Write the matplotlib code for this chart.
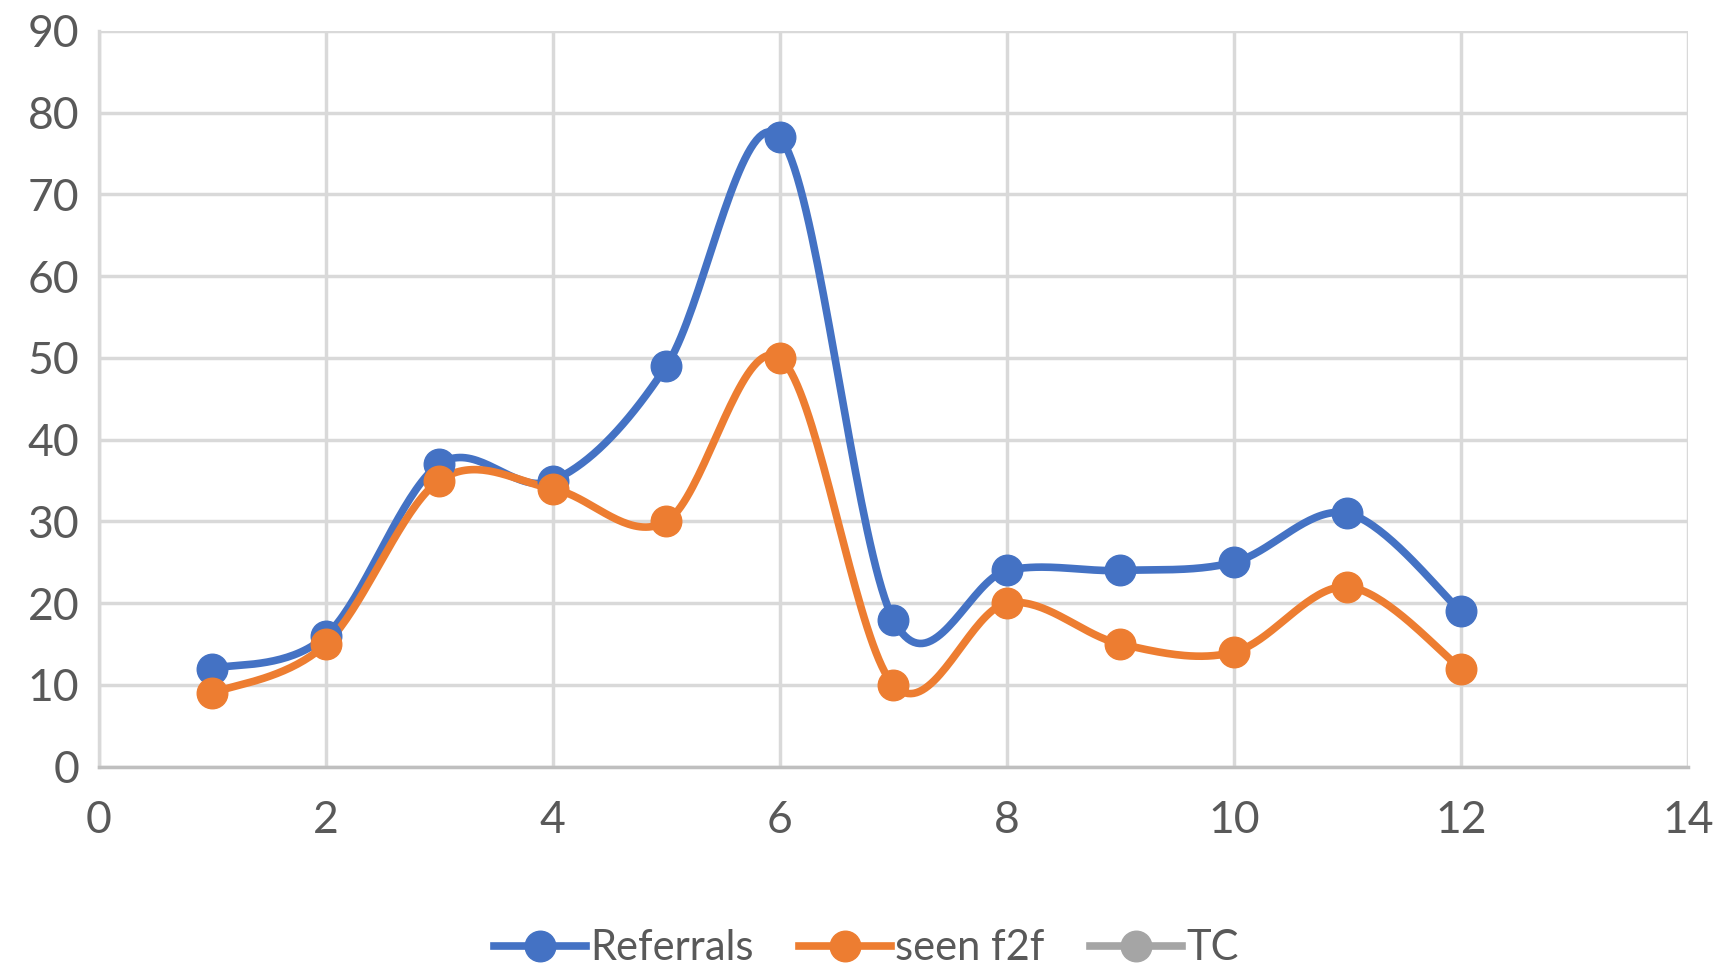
import matplotlib
matplotlib.use("Agg")
import matplotlib.pyplot as plt
import numpy as np

# data
x_vals = [1, 2, 3, 4, 5, 6, 7, 8, 9, 10, 11, 12]
referrals = [12, 16, 37, 35, 49, 77, 18, 24, 24, 25, 31, 19]
seen_f2f = [9, 15, 35, 34, 30, 50, 10, 20, 15, 14, 22, 12]
tc = []  # no values plotted

x_ticks = [0, 2, 4, 6, 8, 10, 12, 14]
y_ticks = [0, 10, 20, 30, 40, 50, 60, 70, 80, 90]


def smooth(xs, ys, n=40):
    # Excel-style smoothed line (Catmull-Rom through the points)
    p = np.column_stack([xs, ys]).astype(float)
    out = [p[0]]
    for i in range(len(p) - 1):
        p0 = p[i - 1] if i > 0 else p[i]
        p1, p2 = p[i], p[i + 1]
        p3 = p[i + 2] if i + 2 < len(p) else p[i + 1]
        c1 = p1 + (p2 - p0) / 6
        c2 = p2 - (p3 - p1) / 6
        t = np.linspace(0, 1, n)[1:, None]
        seg = (1 - t) ** 3 * p1 + 3 * (1 - t) ** 2 * t * c1 + 3 * (1 - t) * t ** 2 * c2 + t ** 3 * p2
        out.extend(seg)
    out = np.array(out)
    return out[:, 0], out[:, 1]


plt.rcParams['font.family'] = ['Lato', 'DejaVu Sans']

fig = plt.figure(figsize=(17.33, 9.68), dpi=100)
ax = fig.add_axes([0.057, 0.208, 0.917, 0.760])

series = [("Referrals", referrals, "#4472c4"),
          ("seen f2f", seen_f2f, "#ed7d31"),
          ("TC", tc, "#a5a5a5")]

handles = []
for name, vals, col in series:
    if len(vals) > 0:
        sx, sy = smooth(x_vals[:len(vals)], vals)
        ax.plot(sx, sy, color=col, lw=5.5, solid_capstyle='round', zorder=3)
        ax.plot(x_vals[:len(vals)], vals, 'o', color=col, ms=22, zorder=4)
    h, = ax.plot([], [], '-o', color=col, lw=5.5, ms=22, label=name)
    handles.append(h)

ax.set_xlim(0, 14)
ax.set_ylim(0, 90)
ax.set_xticks(x_ticks)
ax.set_yticks(y_ticks)
ax.grid(True, color="#d9d9d9", lw=2.5)
ax.set_axisbelow(True)
for s in ['top', 'right']:
    ax.spines[s].set_visible(False)
ax.spines['left'].set_color("#d9d9d9")
ax.spines['left'].set_linewidth(2.5)
ax.spines['bottom'].set_color("#bfbfbf")
ax.spines['bottom'].set_linewidth(2.5)
ax.tick_params(length=0, labelsize=32, labelcolor="#595959", pad=14)
ax.tick_params(axis='x', pad=24)

fig.legend(handles=handles, loc='lower center', ncol=3, frameon=False,
           fontsize=30, labelcolor="#595959", handlelength=2.2,
           handletextpad=0.1, columnspacing=1.1, bbox_to_anchor=(0.5, -0.038))

fig.savefig("out.png", dpi=100, facecolor="white")
